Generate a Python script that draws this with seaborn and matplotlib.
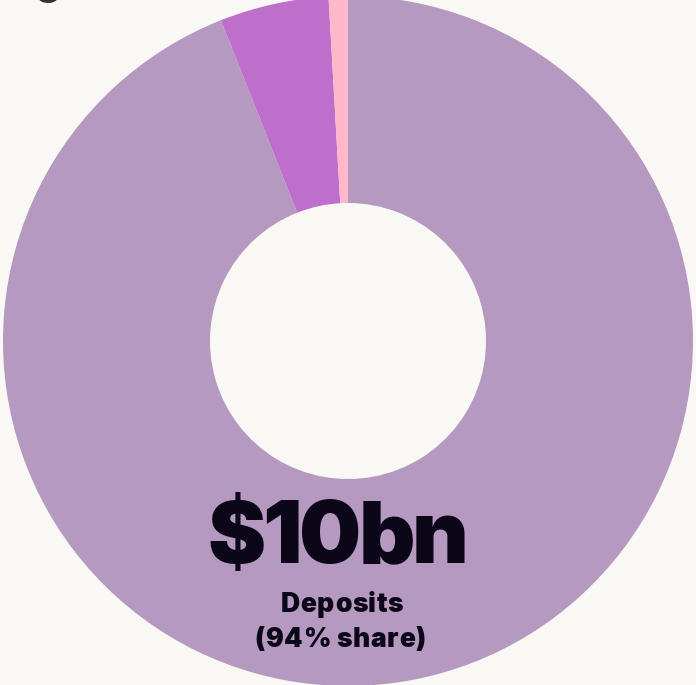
import matplotlib
matplotlib.use("Agg")
import matplotlib.pyplot as plt
import seaborn as sns

# Share of funding by source (percent)
categories = ["Deposits", "Other borrowing", "Other"]
shares = [94.0, 5.1, 0.9]
colors = ["#B699C0", "#BE6FCC", "#FFB7C9"]
headline = "$10bn"
label_name = "Deposits"
label_share = "(94% share)"

sns.set_theme(style="white")
plt.rcParams["font.family"] = ["Inter", "DejaVu Sans"]

bg = "#F9F8F5"
ink = "#0B0719"
fig = plt.figure(figsize=(6.96, 6.85), dpi=100, facecolor=bg)
ax = fig.add_axes([0, 0, 1, 1])
ax.set_facecolor(bg)

radius = 345
ax.pie(shares, colors=colors, startangle=90, counterclock=False,
       radius=radius, center=(0, 0),
       wedgeprops=dict(width=radius * 0.6, linewidth=0))

# one data unit == one pixel, pie centred on the origin
ax.set_xlim(-348, 348)
ax.set_ylim(-344, 341)
ax.set_aspect("equal")
ax.axis("off")

renderer = fig.canvas.get_renderer()


def tight_text(s, cx, y, size, gap, **kw):
    """Write s centred on cx, glyph by glyph with a fixed gap for tight tracking."""
    widths = []
    for ch in s:
        if ch == " ":
            widths.append(size * 0.28)
            continue
        t = ax.text(0, 0, ch, fontsize=size, **kw)
        widths.append(t.get_window_extent(renderer).width)
        t.remove()
    total = sum(widths) + gap * (len(s) - 1)
    x = cx - total / 2
    for ch, w in zip(s, widths):
        if ch != " ":
            ax.text(x, y, ch, fontsize=size, ha="left", va="baseline", **kw)
        x += w + gap


# Cropped title descender peeking in at the top
fig.text(0.07, 1.022, "g", ha="center", va="center", fontsize=28,
         fontweight="black", color="#333333")

tight_text(headline, -10, -222, 63, -3.0, fontweight="black", color=ink)
tight_text(label_name, -6, -271, 19, 0.6, fontweight="black", color=ink)
tight_text(label_share, -8, -306, 19, 0.6, fontweight="black", color=ink)

fig.savefig("out.png", dpi=100, facecolor=bg)
